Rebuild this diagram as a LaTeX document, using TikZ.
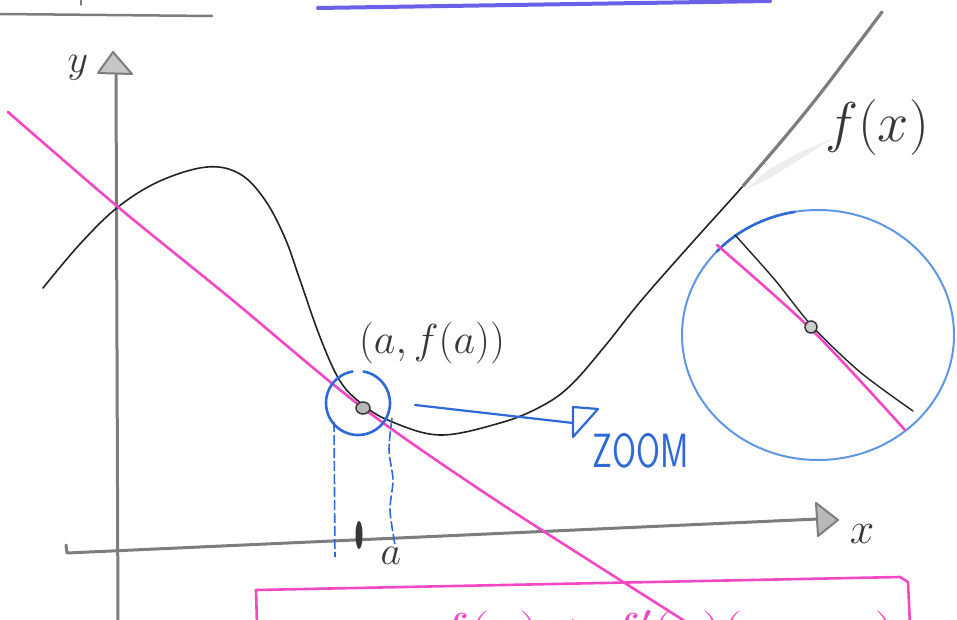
\RequirePackage{fix-cm}
\documentclass[tikz,border=0pt]{standalone}
\definecolor{pinkpen}{RGB}{242,72,196}
\definecolor{bluepen}{RGB}{45,105,215}
\definecolor{lightbluepen}{RGB}{95,150,230}
\definecolor{pencilgray}{RGB}{125,125,125}
\definecolor{curvegray}{RGB}{35,35,35}
\definecolor{inkgray}{RGB}{55,55,55}
\definecolor{purplepen}{RGB}{105,98,232}
\begin{document}
\begin{tikzpicture}[x=1pt,y=-1pt,
  pencil/.style={draw=pencilgray, line width=3pt, line cap=round},
  curve/.style={draw=curvegray, line width=1.6pt, line cap=round},
  tangent/.style={draw=pinkpen, line width=2.6pt, line cap=round},
  blueline/.style={draw=bluepen, line width=2.6pt, line cap=round},
  lbl/.style={inner sep=0pt, text=inkgray}]
\useasboundingbox (0,0) rectangle (957,620);
\clip (0,0) rectangle (957,620);
% top strip
\draw[pencil, line width=2.5pt] (0,14) -- (212,16);
\draw[pencil, line width=2pt] (81,-2) -- (81,5);
\draw[draw=purplepen, line width=4pt, line cap=round] (318,8) -- (770,1);
% y axis
\coordinate (ybot) at (118,625);
\coordinate (ytop) at (116,74);
\draw[pencil] (ybot) -- (ytop);
\draw[draw=pencilgray, line width=2pt, fill=gray!45, line join=round] (113,52) -- (132,74) -- (98,73) -- cycle;
\node[lbl, font=\fontsize{40}{40}\selectfont] (ylab) at (78,68) {$y$};
% x axis
\coordinate (xhook) at (66,545);
\coordinate (xleft) at (67,553);
\coordinate (xright) at (818,519);
\draw[pencil, line join=round] (xhook) -- (xleft) -- (xright);
\draw[draw=pencilgray, line width=2pt, fill=gray!55, line join=round] (816,503) -- (838,520) -- (818,536) -- cycle;
\node[lbl, font=\fontsize{44}{44}\selectfont] (xlab) at (862,534) {$x$};
% curve f(x)
\draw[curve] plot[smooth, tension=0.6] coordinates {(43,288) (80,244) (118,207) (160,181) (207,167) (240,174) (265,200) (285,238) (300,280) (320,337) (340,381) (362,404) (390,421) (440,435) (500,423) (540,407) (570,386) (605,346) (640,302) (690,245) (743,186) (785,137) (823,90) (882,12)};
\fill[gray!14] (745,190) -- (768,170) -- (800,152) -- (834,138) -- (805,156) -- (772,177) -- cycle;
\draw[draw=pencilgray, line width=3.2pt, line cap=round] plot[smooth] coordinates {(743,186) (785,137) (823,90) (882,12)};
\node[lbl, font=\fontsize{56}{56}\selectfont] (flab) at (877,128) {$f(x)$};
% tangent line
\draw[tangent] plot[smooth] coordinates {(8,112) (118,207) (230,298) (363,408) (500,503) (683,620) (695,628)};
% point
\coordinate (P) at (363,408);
\draw[draw=inkgray, line width=1.5pt, fill=gray!55] (P) ellipse [x radius=7pt, y radius=6pt];
\node[lbl, font=\fontsize{42}{42}\selectfont] (plab) at (432,343) {$(a,f(a))$};
% small blue circle with gap
\coordinate (C) at (358,403);
\draw[blueline] (C) ++(100:32pt) arc[start angle=100, end angle=440, radius=32pt];
% dashed projections
\draw[draw=bluepen, line width=1.6pt, dash pattern=on 10pt off 3pt] (334,422) -- (335,557);
\draw[draw=bluepen, line width=1.6pt, dash pattern=on 10pt off 3pt] plot[smooth] coordinates {(392,418) (389,450) (393,480) (390,510) (395,545)};
% tick at a
\fill[inkgray] (359,535) ellipse [x radius=3.5pt, y radius=14pt];
\node[lbl, font=\fontsize{40}{40}\selectfont] (alab) at (391,556) {$a$};
% zoom arrow
\coordinate (arrS) at (415,405);
\coordinate (arrE) at (573,423);
\draw[blueline, line width=2.2pt] (arrS) -- (arrE);
\draw[blueline, line width=2.2pt, line join=round] (573,407) -- (598,409) -- (573,437) -- cycle;
\node[inner sep=0pt, text=bluepen, font=\sffamily\fontsize{48}{48}\selectfont] (zlab) at (641,451) {\scalebox{0.72}[1]{ZOOM}};
% zoomed circle
\coordinate (Z) at (818,335);
\draw[draw=lightbluepen, line width=2pt] (Z) ellipse [x radius=136pt, y radius=125pt];
\draw[blueline] (Z) ++(100:136pt and 125pt) arc[start angle=100, end angle=138, x radius=136pt, y radius=125pt];
\draw[curve, line width=1.4pt] plot[smooth] coordinates {(735,235) (775,280) (812,326) (860,372) (913,411)};
\draw[tangent] plot[smooth] coordinates {(717,245) (812,330) (905,430)};
\draw[draw=inkgray, line width=1.5pt, fill=gray!40] (811,327) circle[radius=6pt];
% formula box
\draw[tangent, line join=round] (257,625) -- (256,590) -- (900,577) -- (908,582) -- (910,625);
\node[anchor=base east, inner sep=0pt, text=pinkpen, font=\fontsize{46}{46}\selectfont] (formula) at (895,645) {\scalebox{1.25}[1]{$y = f(a) + f'(a)(x-a)$}};
\end{tikzpicture}
\end{document}
